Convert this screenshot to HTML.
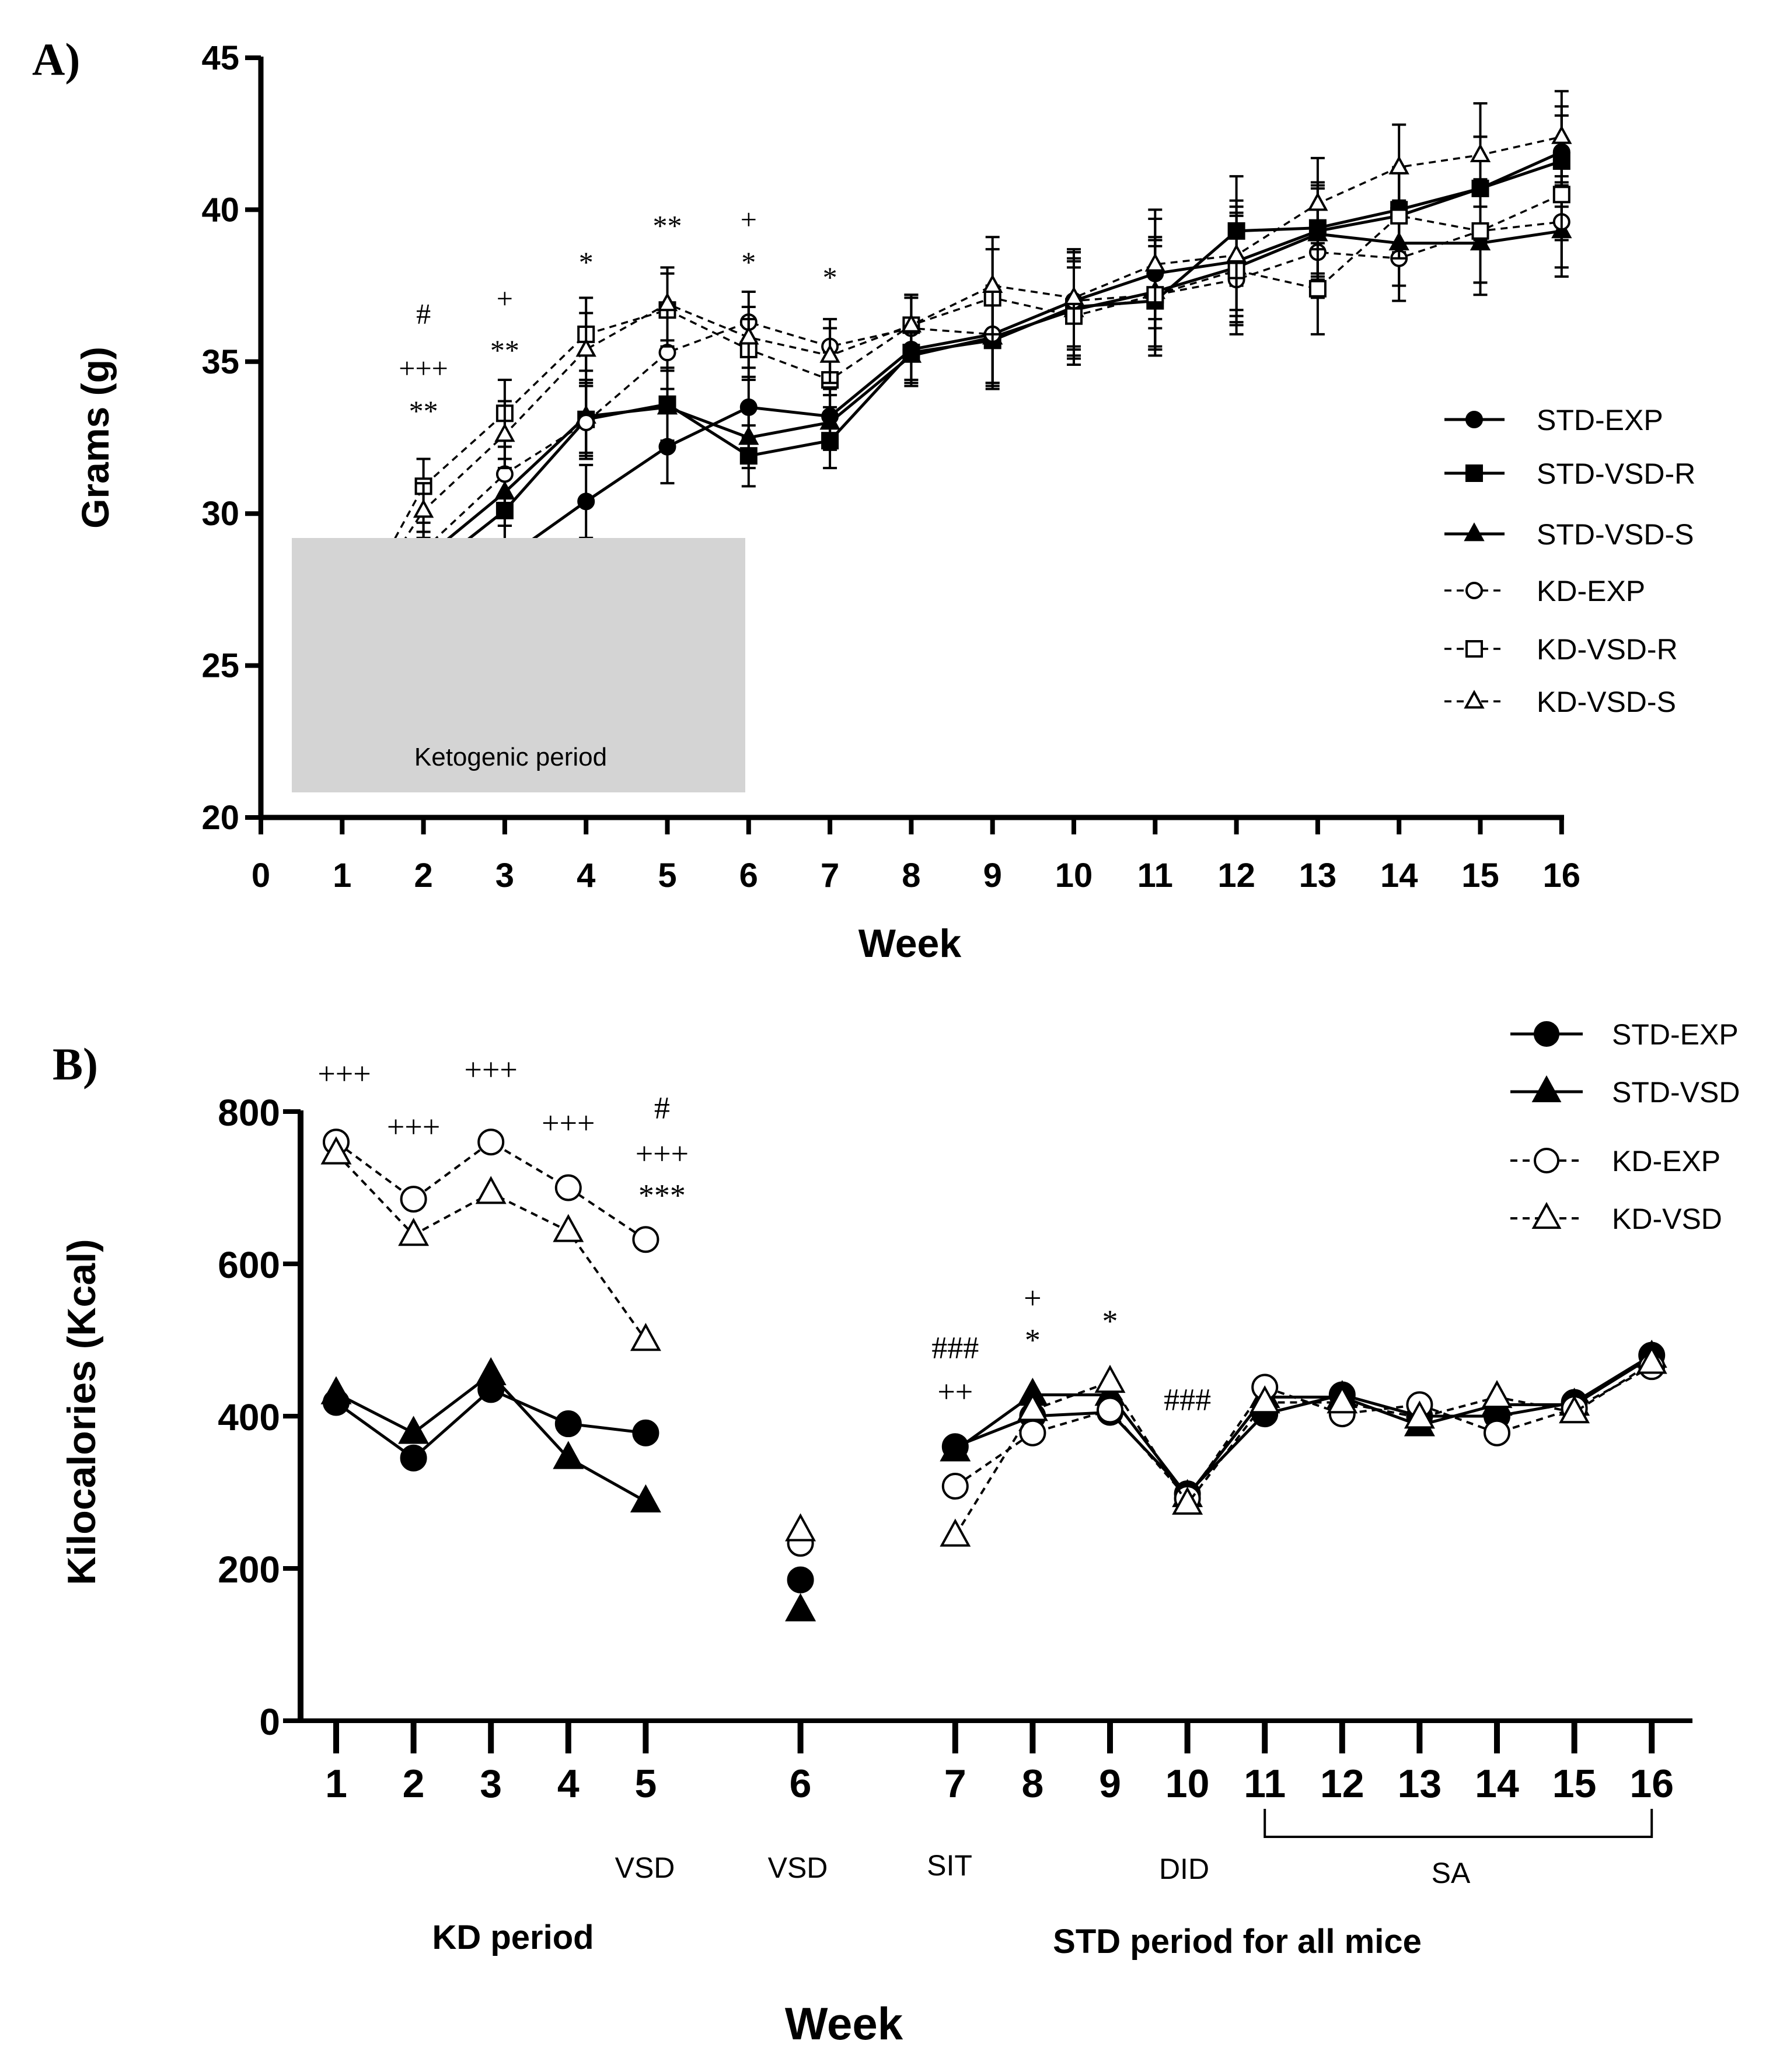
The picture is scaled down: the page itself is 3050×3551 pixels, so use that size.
<!DOCTYPE html>
<html><head><meta charset="utf-8"><style>
html,body{margin:0;padding:0;background:#fff}
svg{display:block}
text{font-family:"Liberation Sans",sans-serif}
.serif{font-family:"Liberation Serif",serif}
</style></head><body>
<svg id="chart" width="3050" height="3551" viewBox="0 0 3050 3551" xmlns="http://www.w3.org/2000/svg"></svg>
<script>
// ---------- Panel A data ----------
const weeksA = [1,2,3,4,5,6,7,8,9,10,11,12,13,14,15,16];
const yTicksA = [20,25,30,35,40,45];
const xTicksA = [0,1,2,3,4,5,6,7,8,9,10,11,12,13,14,15,16];
const stdExpA  = [25.5,27.5,28.5,30.4,32.2,33.5,33.2,35.4,35.9,37.0,37.9,38.3,39.3,39.8,40.7,41.9];
const stdVsdRA = [25.5,28.0,30.1,33.1,33.6,31.9,32.4,35.3,35.7,36.8,37.0,39.3,39.4,40.0,40.7,41.6];
const stdVsdSA = [25.6,28.5,30.7,33.2,33.5,32.5,33.0,35.2,35.8,36.7,37.3,38.1,39.2,38.9,38.9,39.3];
const kdExpA   = [25.8,28.8,31.3,33.0,35.3,36.3,35.5,36.1,35.9,37.0,37.2,37.7,38.6,38.4,39.3,39.6];
const kdVsdRA  = [26.0,30.9,33.3,35.9,36.7,35.4,34.4,36.2,37.1,36.5,37.2,38.0,37.4,39.8,39.3,40.5];
const kdVsdSA  = [26.0,30.1,32.6,35.4,36.9,35.8,35.2,36.2,37.5,37.1,38.2,38.5,40.2,41.4,41.8,42.4];
const errA     = [1.0,0.9,1.1,1.2,1.2,1.0,0.9,1.0,1.6,1.6,1.8,1.8,1.5,1.4,1.7,1.5];
const sigA = [[2,"#",36.6],[2,"+++",34.8],[2,"**",33.4],[3,"+",37.1],[3,"**",35.4],[4,"*",38.3],[5,"**",39.5],[6,"+",39.7],[6,"*",38.3],[7,"*",37.8]];

// ---------- Panel B data ----------
const weeksB = [1,2,3,4,5,6,7,8,9,10,11,12,13,14,15,16];
const yTicksB = [0,200,400,600,800];
const stdExpB = [418,345,435,390,378,185,360,400,405,298,403,428,400,400,418,480];
const stdVsdB = [430,378,455,345,288,145,355,428,428,295,425,425,388,415,415,478];
const kdExpB  = [760,685,760,700,632,233,308,378,408,292,438,403,415,378,410,465];
const kdVsdB  = [745,638,693,643,500,250,243,408,445,285,418,418,398,425,405,470];
const sigB = [[1,"+++",850],[2,"+++",780],[3,"+++",855],[4,"+++",785],[5,"#",805],[5,"+++",745],[5,"***",690],[7,"###",490],[7,"++",432],[8,"+",555],[8,"*",500],[9,"*",525],[10,"###",422]];

const svg = document.getElementById('chart');
const NS = 'http://www.w3.org/2000/svg';
function el(tag, attrs, parent){const e=document.createElementNS(NS,tag);for(const k in attrs)e.setAttribute(k,attrs[k]);(parent||svg).appendChild(e);return e;}
function txt(s, attrs, parent){const e=el('text',attrs,parent);e.textContent=s;return e;}

// axis functions
const xA = w => 447 + w*139.3;
const yA = v => 1401 - (v-20)*52.08;
const slotB = w => (w<=5? w-1 : (w===6? 6 : w+1));
const xB = w => 576 + slotB(w)*132.6;
const yB = v => 2949 - v*1.305;

function marker(g, type, fill, x, y, r){
  let m;
  if(type==='circle') m=el('circle',{cx:x,cy:y,r:r,fill:fill,stroke:'#000','stroke-width':4},g);
  else if(type==='square') m=el('rect',{x:x-r,y:y-r,width:2*r,height:2*r,fill:fill,stroke:'#000','stroke-width':4},g);
  else m=el('polygon',{points:`${x},${y-r*1.2} ${x-r*1.1},${y+r*0.8} ${x+r*1.1},${y+r*0.8}`,fill:fill,stroke:'#000','stroke-width':4},g);
  return m;
}

// ===================== PANEL A =====================
const gA = el('g',{});


txt('A)',{x:55,y:128,'font-size':78,'font-weight':'bold',class:'serif'},gA);

const seriesA = [
  {name:'STD-EXP',vals:stdExpA,type:'circle',fill:'#000',dash:null},
  {name:'STD-VSD-R',vals:stdVsdRA,type:'square',fill:'#000',dash:null},
  {name:'STD-VSD-S',vals:stdVsdSA,type:'tri',fill:'#000',dash:null},
  {name:'KD-EXP',vals:kdExpA,type:'circle',fill:'#fff',dash:'12,9'},
  {name:'KD-VSD-R',vals:kdVsdRA,type:'square',fill:'#fff',dash:'12,9'},
  {name:'KD-VSD-S',vals:kdVsdSA,type:'tri',fill:'#fff',dash:'12,9'}
];
seriesA.forEach(s=>{
  const g=el('g',{},gA);
  
  
  s.vals.forEach((v,i)=>{
    const x=xA(weeksA[i]);
    el('line',{x1:x,x2:x,y1:yA(v+errA[i]),y2:yA(v-errA[i]),stroke:'#000','stroke-width':4},g);
    el('line',{x1:x-12,x2:x+12,y1:yA(v+errA[i]),y2:yA(v+errA[i]),stroke:'#000','stroke-width':4},g);
    el('line',{x1:x-12,x2:x+12,y1:yA(v-errA[i]),y2:yA(v-errA[i]),stroke:'#000','stroke-width':4},g);
  });
  const pl=el('polyline',{points:s.vals.map((v,i)=>xA(weeksA[i])+','+yA(v)).join(' '),fill:'none',stroke:'#000','stroke-width':s.dash?3.5:5},g);
  if(s.dash) pl.setAttribute('stroke-dasharray',s.dash);
  s.vals.forEach((v,i)=>{const m=marker(g,s.type,s.fill,xA(weeksA[i]),yA(v),13);});
});
// ketogenic box
const box=el('rect',{x:500,y:922,width:777,height:436,fill:'#d4d4d4'},gA);


txt('Ketogenic period',{x:875,y:1312,'font-size':44,'text-anchor':'middle'},gA);
// axes
el('line',{x1:447,x2:447,y1:97,y2:1404,stroke:'#000','stroke-width':9},gA);
el('line',{x1:443,x2:2680,y1:1401,y2:1401,stroke:'#000','stroke-width':9},gA);
yTicksA.forEach(t=>{
  el('line',{x1:420,x2:447,y1:yA(t),y2:yA(t),stroke:'#000','stroke-width':8},gA);
  const tl=txt(t,{x:410,y:yA(t)+20,'font-size':58,'font-weight':'bold','text-anchor':'end'},gA);
  
});
xTicksA.forEach(t=>{
  el('line',{x1:xA(t),x2:xA(t),y1:1401,y2:1430,stroke:'#000','stroke-width':8},gA);
  const tl=txt(t,{x:xA(t),y:1520,'font-size':58,'font-weight':'bold','text-anchor':'middle'},gA);
  
});
txt('Grams (g)',{x:0,y:0,'font-size':66,'font-weight':'bold','text-anchor':'middle',transform:'translate(186,750) rotate(-90)'},gA);
txt('Week',{x:1559,y:1640,'font-size':68,'font-weight':'bold','text-anchor':'middle'},gA);
sigA.forEach(s=>{const t=txt(s[1],{x:xA(s[0]),y:yA(s[2])+18,'font-size':50,'text-anchor':'middle',class:'serif'},gA);});
// legend A
const legA=[719,811,915,1012,1112,1202];
seriesA.forEach((s,i)=>{
  const g=el('g',{},gA);
  
  
  const l=el('line',{x1:2475,x2:2578,y1:legA[i],y2:legA[i],stroke:'#000','stroke-width':s.dash?3.5:5},g);
  if(s.dash) l.setAttribute('stroke-dasharray','12,9');
  marker(g,s.type,s.fill,2526,legA[i],13);
  txt(s.name,{x:2633,y:legA[i]+18,'font-size':50},g);
});

// ===================== PANEL B =====================
const gB = el('g',{});


txt('B)',{x:90,y:1850,'font-size':78,'font-weight':'bold',class:'serif'},gB);
const seriesB=[
  {name:'STD-EXP',vals:stdExpB,type:'circle',fill:'#000',dash:null},
  {name:'STD-VSD',vals:stdVsdB,type:'tri',fill:'#000',dash:null},
  {name:'KD-EXP',vals:kdExpB,type:'circle',fill:'#fff',dash:'12,9'},
  {name:'KD-VSD',vals:kdVsdB,type:'tri',fill:'#fff',dash:'12,9'}
];
seriesB.forEach(s=>{
  const g=el('g',{},gB);
  
  
  const seg1=[],seg2=[];
  s.vals.forEach((v,i)=>{const w=weeksB[i];const p=xB(w)+','+yB(v);if(w<=5)seg1.push(p);else if(w>=7)seg2.push(p);});
  [seg1,seg2].forEach(seg=>{const pl=el('polyline',{points:seg.join(' '),fill:'none',stroke:'#000','stroke-width':s.dash?4:5},g);if(s.dash)pl.setAttribute('stroke-dasharray',s.dash);});
  s.vals.forEach((v,i)=>{const m=marker(g,s.type,s.fill,xB(weeksB[i]),yB(v),21);});
});
el('line',{x1:515,x2:515,y1:1903,y2:2953,stroke:'#000','stroke-width':10},gB);
el('line',{x1:510,x2:2900,y1:2949,y2:2949,stroke:'#000','stroke-width':8},gB);
yTicksB.forEach(t=>{
  el('line',{x1:485,x2:515,y1:yB(t),y2:yB(t),stroke:'#000','stroke-width':8},gB);
  txt(t,{x:480,y:yB(t)+24,'font-size':64,'font-weight':'bold','text-anchor':'end'},gB);
});
weeksB.forEach(w=>{
  el('line',{x1:xB(w),x2:xB(w),y1:2949,y2:3005,stroke:'#000','stroke-width':10},gB);
  txt(w,{x:xB(w),y:3080,'font-size':68,'font-weight':'bold','text-anchor':'middle'},gB);
});
txt('Kilocalories (Kcal)',{x:0,y:0,'font-size':68,'font-weight':'bold','text-anchor':'middle',transform:'translate(163,2420) rotate(-90)'},gB);
sigB.forEach(s=>{txt(s[1],{x:xB(s[0])+(s[0]===1?14:(s[0]===5?28:0)),y:yB(s[2])+18,'font-size':54,'text-anchor':'middle',class:'serif'},gB);});
// phase labels
[['VSD',1105,3218],['VSD',1367,3218],['SIT',1627,3214],['DID',2029,3220],['SA',2486,3227]].forEach(a=>{
  txt(a[0],{x:a[1],y:a[2],'font-size':50,'text-anchor':'middle'},gB);
});
const br=el('polyline',{points:`${xB(11)},3100 ${xB(11)},3148 ${xB(16)},3148 ${xB(16)},3100`,fill:'none',stroke:'#000','stroke-width':4},gB);


txt('KD period',{x:879,y:3340,'font-size':58,'font-weight':'bold','text-anchor':'middle'},gB);
txt('STD period for all mice',{x:2120,y:3347,'font-size':58,'font-weight':'bold','text-anchor':'middle'},gB);
txt('Week',{x:1446,y:3495,'font-size':78,'font-weight':'bold','text-anchor':'middle'},gB);
const legB=[1772,1871,1989,2088];
seriesB.forEach((s,i)=>{
  const g=el('g',{},gB);
  
  
  const l=el('line',{x1:2588,x2:2712,y1:legB[i],y2:legB[i],stroke:'#000','stroke-width':s.dash?4:5},g);
  if(s.dash) l.setAttribute('stroke-dasharray','12,9');
  marker(g,s.type,s.fill,2650,legB[i],20);
  txt(s.name,{x:2762,y:legB[i]+18,'font-size':50},g);
});
</script>
</body></html>
